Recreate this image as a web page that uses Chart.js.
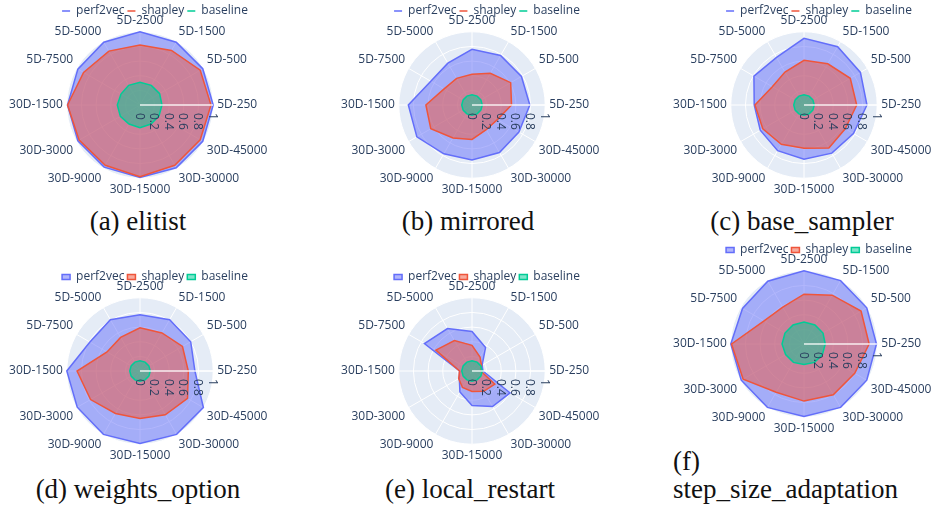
<!DOCTYPE html>
<html>
<head>
<meta charset="utf-8">
<script src="https://cdn.jsdelivr.net/npm/chart.js@4.4.1/dist/chart.umd.min.js"></script>
<style>
    body { margin: 0; width: 933px; height: 506px; overflow: hidden; background: #fff; position: relative; }
    canvas { position: absolute; }
    .caption { position: absolute; font-family: 'Liberation Serif', 'Times New Roman', 'DejaVu Serif', serif; font-size: 27px; line-height: 30px; color: #111; white-space: pre; }
    .centered { transform: translateX(-50%); }
</style>
</head>
<body>
<script>
const categories = ['5D-250', '5D-500', '5D-1500', '5D-2500', '5D-5000', '5D-7500',
    '30D-1500', '30D-3000', '30D-9000', '30D-15000', '30D-30000', '30D-45000'];
const radialTicks = [0, 0.2, 0.4, 0.6, 0.8, 1];
const radialTickLabels = ['0', '0.2', '0.4', '0.6', '0.8', '1'];
const seriesNames = ['perf2vec', 'shapley', 'baseline'];

// one value per category, same order as `categories`
const elitistPerf2vec = [1.0, 0.99, 0.99, 1.0, 0.99, 0.98, 0.99, 0.98, 0.98, 0.99, 0.99, 0.99];
const elitistShapley = [0.97, 0.95, 0.86, 0.82, 0.85, 0.89, 0.99, 0.96, 0.95, 0.98, 0.95, 0.95];
const elitistBaseline = [0.30, 0.31, 0.31, 0.31, 0.31, 0.30, 0.31, 0.31, 0.30, 0.31, 0.30, 0.30];

const mirroredPerf2vec = [0.79, 0.78, 0.78, 0.76, 0.66, 0.65, 0.87, 0.87, 0.77, 0.75, 0.75, 0.74];
const mirroredShapley = [0.54, 0.61, 0.50, 0.42, 0.42, 0.44, 0.63, 0.65, 0.52, 0.47, 0.39, 0.40];
const mirroredBaseline = [0.14, 0.14, 0.14, 0.14, 0.14, 0.14, 0.14, 0.14, 0.14, 0.14, 0.14, 0.14];

const baseSamplerPerf2vec = [0.86, 0.89, 0.92, 0.91, 0.75, 0.79, 0.68, 0.69, 0.72, 0.74, 0.76, 0.78];
const baseSamplerShapley = [0.72, 0.73, 0.65, 0.61, 0.52, 0.50, 0.67, 0.65, 0.62, 0.59, 0.68, 0.65];
const baseSamplerBaseline = [0.14, 0.14, 0.14, 0.14, 0.14, 0.14, 0.14, 0.14, 0.14, 0.14, 0.14, 0.14];

const weightsPerf2vec = [0.75, 0.80, 0.81, 0.77, 0.81, 0.79, 1.0, 0.99, 1.0, 0.99, 1.0, 1.0];
const weightsShapley = [0.66, 0.67, 0.60, 0.59, 0.53, 0.52, 0.86, 0.78, 0.67, 0.65, 0.69, 0.75];
const weightsBaseline = [0.14, 0.14, 0.14, 0.14, 0.14, 0.14, 0.14, 0.14, 0.14, 0.14, 0.14, 0.14];

const restartPerf2vec = [0.15, 0.16, 0.37, 0.54, 0.67, 0.75, 0.17, 0.20, 0.33, 0.47, 0.56, 0.60];
const restartShapley = [0.12, 0.15, 0.22, 0.35, 0.48, 0.57, 0.17, 0.21, 0.26, 0.28, 0.32, 0.36];
const restartBaseline = [0.14, 0.14, 0.14, 0.14, 0.14, 0.14, 0.14, 0.14, 0.14, 0.14, 0.14, 0.14];

const stepSizePerf2vec = [0.99, 0.99, 1.0, 1.0, 0.99, 0.97, 1.0, 0.99, 1.0, 0.99, 1.0, 0.99];
const stepSizeShapley = [0.89, 0.90, 0.77, 0.68, 0.58, 0.63, 0.99, 0.96, 0.76, 0.78, 0.80, 0.80];
const stepSizeBaseline = [0.29, 0.30, 0.30, 0.30, 0.30, 0.30, 0.30, 0.29, 0.29, 0.28, 0.29, 0.29];

const lineColors = ['#636efa', '#EF553B', '#00cc96'];
const fillColors = ['rgba(99,110,250,0.5)', 'rgba(239,85,59,0.5)', 'rgba(0,204,150,0.5)'];

const CANVAS_W = 300;
const CANVAS_H = 197;

// cx = polar centre on the page, top = canvas top
const panels = [
    { caption: '(a) elitist', values: [elitistPerf2vec, elitistShapley, elitistBaseline], cx: 140, top: 0, capX: 138, capY: 206, lineLegend: true },
    { caption: '(b) mirrored', values: [mirroredPerf2vec, mirroredShapley, mirroredBaseline], cx: 472, top: 0, capX: 468, capY: 206, lineLegend: true },
    { caption: '(c) base_sampler', values: [baseSamplerPerf2vec, baseSamplerShapley, baseSamplerBaseline], cx: 804, top: 0, capX: 802, capY: 206, lineLegend: true },
    { caption: '(d) weights_option', values: [weightsPerf2vec, weightsShapley, weightsBaseline], cx: 140, top: 266, capX: 138, capY: 474, lineLegend: false },
    { caption: '(e) local_restart', values: [restartPerf2vec, restartShapley, restartBaseline], cx: 472, top: 266, capX: 470, capY: 474, lineLegend: false },
    { caption: '(f)\nstep_size_adaptation', values: [stepSizePerf2vec, stepSizeShapley, stepSizeBaseline], cx: 804, top: 239, capX: 673, capY: 447, lineLegend: false, leftCaption: true },
];

// plotly goes counter-clockwise from 3 o'clock, Chart.js goes clockwise
function clockwise(arr) {
    return [arr[0], ...arr.slice(1).reverse()];
}

const polarExtras = {
    id: 'polarExtras',
    afterLayout(chart) {
        // legend sits a little right of the polar centre, like plotly
        const legend = chart.legend;
        legend.left += 15;
        legend.right += 15;
        legend.top += 2;
        legend.bottom += 2;
    },
    afterDatasetsDraw(chart) {
        const r = chart.scales.r;
        const ctx = chart.ctx;
        ctx.save();
        ctx.strokeStyle = 'rgba(255,255,255,0.85)';
        ctx.lineWidth = 1.5;
        ctx.beginPath();
        ctx.moveTo(r.xCenter, r.yCenter);
        ctx.lineTo(r.xCenter + r.drawingArea, r.yCenter);
        ctx.stroke();

        ctx.fillStyle = '#2a3f5f';
        ctx.font = '12px "Open Sans"';
        ctx.textAlign = 'left';
        ctx.textBaseline = 'middle';
        radialTicks.forEach((v, i) => {
            ctx.save();
            ctx.translate(r.xCenter + r.getDistanceFromCenterForValue(v) - 1, r.yCenter + 8);
            ctx.rotate(Math.PI / 2);
            ctx.fillText(radialTickLabels[i], 0, 0);
            ctx.restore();
        });
        ctx.restore();
    }
};

function drawPanel(p) {
    const canvas = document.createElement('canvas');
    canvas.width = CANVAS_W;
    canvas.height = CANVAS_H;
    canvas.style.left = (p.cx - CANVAS_W / 2) + 'px';
    canvas.style.top = p.top + 'px';
    document.body.appendChild(canvas);

    const legendLabels = {
        color: '#2a3f5f',
        font: { family: 'Open Sans', size: 12 },
        padding: 3,
        sort: (a, b) => a.datasetIndex - b.datasetIndex,
    };
    if (p.lineLegend) {
        Object.assign(legendLabels, { usePointStyle: true, pointStyle: 'line', pointStyleWidth: 8 });
    } else {
        Object.assign(legendLabels, { boxWidth: 8, boxHeight: 5 });
    }

    new Chart(canvas.getContext('2d'), {
        type: 'radar',
        data: {
            labels: clockwise(categories),
            datasets: seriesNames.map((name, i) => ({
                label: name,
                data: clockwise(p.values[i]),
                borderColor: lineColors[i],
                backgroundColor: fillColors[i],
                borderWidth: 1.5,
                fill: true,
                pointRadius: 0,
                order: 3 - i,
            })),
        },
        options: {
            responsive: false,
            animation: false,
            events: [],
            layout: { padding: 0 },
            plugins: {
                legend: { position: 'top', maxHeight: 15, labels: legendLabels },
                tooltip: { enabled: false },
            },
            scales: {
                r: {
                    min: 0,
                    max: 1,
                    startAngle: 90,
                    backgroundColor: '#E5ECF6',
                    ticks: { display: false, stepSize: 0.2 },
                    grid: { color: '#ffffff', circular: true, lineWidth: 1 },
                    angleLines: { color: '#ffffff', lineWidth: 1 },
                    pointLabels: {
                        color: '#2a3f5f',
                        font: { family: 'Open Sans', size: 12, lineHeight: 1.15 },
                        padding: 4,
                    },
                },
            },
        },
        plugins: [polarExtras],
    });

    const cap = document.createElement('div');
    cap.className = p.leftCaption ? 'caption' : 'caption centered';
    if (p.leftCaption) cap.style.lineHeight = '28px';
    cap.style.left = p.capX + 'px';
    cap.style.top = p.capY + 'px';
    cap.textContent = p.caption;
    document.body.appendChild(cap);
}

panels.forEach(drawPanel);
</script>
</body>
</html>
